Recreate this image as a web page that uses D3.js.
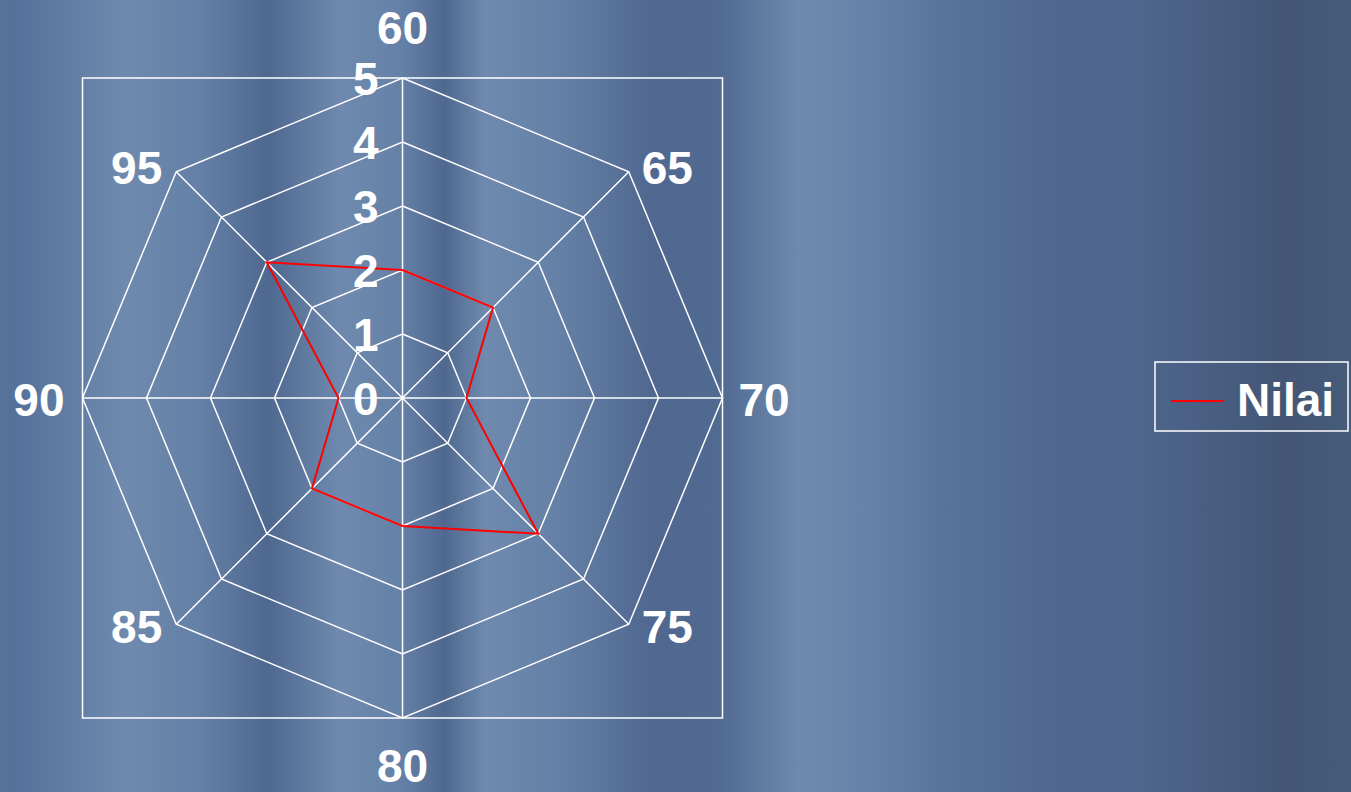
<!DOCTYPE html>
<html>
<head>
<meta charset="utf-8">
<script src="https://cdn.jsdelivr.net/npm/d3@7"></script>
<style>
  html, body { margin: 0; padding: 0; overflow: hidden; }
  svg { display: block; }
  text { font-family: "Liberation Sans", Arial, sans-serif; font-weight: bold; fill: #ffffff; }
</style>
</head>
<body>
<svg id="chart" width="1351" height="792"></svg>
<script>
// Radar categories (clockwise from top) and the single series
const categories = ["60", "65", "70", "75", "80", "85", "90", "95"];
const seriesName = "Nilai";
const values = [2, 2, 1, 3, 2, 2, 1, 3];
const radialTicks = [0, 1, 2, 3, 4, 5];

const W = 1351, H = 792;
const cx = 402.5, cy = 398, R = 320;
const FS = 46;

const svg = d3.select("#chart");

// Striped metallic background
const bgStops = [
  [0, "#587399"], [15, "#55709a"], [125, "#6f8aae"], [200, "#6580a6"],
  [268, "#4f6890"], [340, "#6f8aae"], [400, "#6681a7"], [445, "#4f6890"],
  [485, "#6f8aae"], [560, "#6580a6"], [650, "#506890"], [720, "#516a92"],
  [800, "#6f8aae"], [870, "#6782a8"], [950, "#58729a"], [1050, "#506890"],
  [1130, "#4f678e"], [1280, "#435676"], [1351, "#465a7a"]
];
const defs = svg.append("defs");
const grad = defs.append("linearGradient")
  .attr("id", "bg").attr("x1", 0).attr("x2", 1).attr("y1", 0).attr("y2", 0);
grad.selectAll("stop").data(bgStops).join("stop")
  .attr("offset", d => d[0] / W)
  .attr("stop-color", d => d[1]);
svg.append("rect").attr("width", W).attr("height", H).attr("fill", "url(#bg)");

const r = d3.scaleLinear().domain([0, 5]).range([0, R]);
const angle = d3.scalePoint().domain(categories).range([0, 2 * Math.PI * (categories.length - 1) / categories.length]);
const px = (cat, v) => cx + r(v) * Math.sin(angle(cat));
const py = (cat, v) => cy - r(v) * Math.cos(angle(cat));

const g = svg.append("g");

// Plot frame
g.append("rect")
  .attr("x", cx - R).attr("y", cy - R)
  .attr("width", 2 * R).attr("height", 2 * R)
  .attr("fill", "none").attr("stroke", "#ffffff").attr("stroke-width", 1.5);

// Octagonal grid rings
const ring = d3.line().x(d => d[0]).y(d => d[1]).curve(d3.curveLinearClosed);
g.selectAll(".ring").data(radialTicks.filter(t => t > 0)).join("path")
  .attr("d", t => ring(categories.map(c => [px(c, t), py(c, t)])))
  .attr("fill", "none").attr("stroke", "#ffffff").attr("stroke-width", 1.5);

// Spokes
g.selectAll(".spoke").data(categories).join("line")
  .attr("x1", cx).attr("y1", cy)
  .attr("x2", c => px(c, 5)).attr("y2", c => py(c, 5))
  .attr("stroke", "#ffffff").attr("stroke-width", 1.5);

// Series line
g.append("path")
  .attr("d", ring(categories.map((c, i) => [px(c, values[i]), py(c, values[i])])))
  .attr("fill", "none").attr("stroke", "#ff0000").attr("stroke-width", 2);

// Radial value labels
g.selectAll(".tick").data(radialTicks).join("text")
  .attr("x", cx - 24).attr("y", t => cy - r(t) + 17)
  .attr("text-anchor", "end")
  .attr("font-size", FS)
  .text(t => t);

// Category labels around the rim
function labelPos(c) {
  const a = angle(c);
  const vx = px(c, 5), vy = py(c, 5);
  const s = Math.round(Math.sin(a) * 100) / 100;
  const co = Math.round(Math.cos(a) * 100) / 100;
  if (s === 0 && co > 0) return { x: vx, y: vy - 34, anchor: "middle" };
  if (s === 0 && co < 0) return { x: vx, y: vy + 64, anchor: "middle" };
  if (co === 0) return s > 0 ? { x: vx + 16, y: vy + 18, anchor: "start" } : { x: vx - 18, y: vy + 18, anchor: "end" };
  const dy = co > 0 ? 12 : 19;
  return s > 0 ? { x: vx + 13, y: vy + dy, anchor: "start" } : { x: vx - 14, y: vy + dy, anchor: "end" };
}
g.selectAll(".cat").data(categories).join("text")
  .each(function (c) {
    const p = labelPos(c);
    d3.select(this).attr("x", p.x).attr("y", p.y).attr("text-anchor", p.anchor);
  })
  .attr("font-size", FS)
  .text(c => c);

// Legend
const lg = svg.append("g");
lg.append("rect")
  .attr("x", 1155).attr("y", 362).attr("width", 193).attr("height", 69)
  .attr("fill", "none").attr("stroke", "#ffffff").attr("stroke-width", 1.5);
lg.append("line")
  .attr("x1", 1171).attr("x2", 1224).attr("y1", 401).attr("y2", 401)
  .attr("stroke", "#ff0000").attr("stroke-width", 2);
lg.append("text")
  .attr("x", 1237).attr("y", 416)
  .attr("font-size", FS)
  .text(seriesName);
</script>
</body>
</html>
